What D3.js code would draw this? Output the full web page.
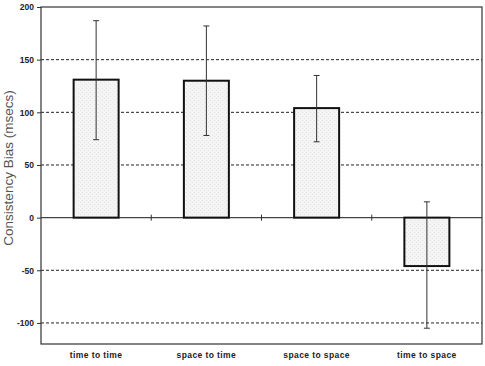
<!DOCTYPE html>
<html>
<head>
<meta charset="utf-8">
<script src="https://cdn.jsdelivr.net/npm/d3@7"></script>
<style>
  body { margin: 0; background: #fff; }
  svg { display: block; }
</style>
</head>
<body>
<svg id="chart" width="485" height="366"></svg>
<script>
// data
const categories = ["time to time", "space to time", "space to space", "time to space"];
const means = [131, 130, 104, -46];
const errHigh = [187, 182, 135, 15];
const errLow = [74, 78, 72, -105];
const yTicks = [-100, -50, 0, 50, 100, 150, 200];

const W = 485, H = 366;
const margin = { top: 7, right: 3, bottom: 22, left: 41 };

const svg = d3.select("#chart");
const g = svg.append("g").attr("transform", `translate(${margin.left},${margin.top})`);
const iw = W - margin.left - margin.right;
const ih = H - margin.top - margin.bottom;

const x = d3.scaleBand().domain(categories).range([0, iw]).paddingInner(0).paddingOuter(0);
const y = d3.scaleLinear().domain([-120, 200]).range([ih, 0]);

// dashed gridlines
g.selectAll(".grid")
  .data(yTicks.filter(d => d !== 0 && d !== 200))
  .enter().append("line")
  .attr("x1", 0).attr("x2", iw)
  .attr("y1", d => y(d)).attr("y2", d => y(d))
  .attr("stroke", "#222").attr("stroke-width", 1)
  .attr("stroke-dasharray", "3,2");

// zero line
g.append("line")
  .attr("x1", 0).attr("x2", iw)
  .attr("y1", y(0)).attr("y2", y(0))
  .attr("stroke", "#444").attr("stroke-width", 1.2);

// category boundary ticks on zero line
g.selectAll(".ctick")
  .data(categories.slice(1))
  .enter().append("line")
  .attr("x1", d => x(d)).attr("x2", d => x(d))
  .attr("y1", y(0) - 3).attr("y2", y(0) + 3)
  .attr("stroke", "#333").attr("stroke-width", 1);

// light stipple pattern for bars
const defs = svg.append("defs");
const pat = defs.append("pattern").attr("id", "stip")
  .attr("width", 4).attr("height", 4).attr("patternUnits", "userSpaceOnUse");
pat.append("rect").attr("width", 4).attr("height", 4).attr("fill", "#f4f4f4");
pat.append("rect").attr("x", 1).attr("y", 1).attr("width", 1).attr("height", 1).attr("fill", "#e2e2e2");
pat.append("rect").attr("x", 3).attr("y", 3).attr("width", 1).attr("height", 1).attr("fill", "#e6e6e6");

const bw = 45;
g.selectAll(".bar")
  .data(categories)
  .enter().append("rect")
  .attr("x", d => x(d) + x.bandwidth() / 2 - bw / 2)
  .attr("y", (d, i) => y(Math.max(0, means[i])))
  .attr("width", bw)
  .attr("height", (d, i) => Math.abs(y(means[i]) - y(0)))
  .attr("fill", "url(#stip)")
  .attr("stroke", "#111").attr("stroke-width", 2);

// error bars
const eb = g.selectAll(".err").data(categories).enter().append("g")
  .attr("transform", d => `translate(${x(d) + x.bandwidth() / 2},0)`)
  .attr("stroke", "#333").attr("stroke-width", 1);
eb.append("line").attr("y1", (d, i) => y(errHigh[i])).attr("y2", (d, i) => y(errLow[i]));
eb.append("line").attr("x1", -3).attr("x2", 3).attr("y1", (d, i) => y(errHigh[i])).attr("y2", (d, i) => y(errHigh[i]));
eb.append("line").attr("x1", -3).attr("x2", 3).attr("y1", (d, i) => y(errLow[i])).attr("y2", (d, i) => y(errLow[i]));

// frame
g.append("rect").attr("width", iw).attr("height", ih)
  .attr("fill", "none").attr("stroke", "#333").attr("stroke-width", 1.2);

// y axis
const yAxis = g.append("g")
  .call(d3.axisLeft(y).tickValues(yTicks).tickSize(4).tickPadding(3).tickFormat(d => String(d)));
yAxis.select(".domain").remove();
yAxis.selectAll("line").attr("stroke", "#333");
yAxis.selectAll("text")
  .attr("font-family", "Liberation Sans, Arial, sans-serif")
  .attr("font-size", 8.5).attr("font-weight", "bold").attr("fill", "#222");

// x labels
g.selectAll(".xl")
  .data(categories)
  .enter().append("text")
  .attr("x", d => x(d) + x.bandwidth() / 2)
  .attr("y", ih + 14)
  .attr("text-anchor", "middle")
  .attr("font-family", "Liberation Sans, Arial, sans-serif")
  .attr("font-size", 8.5).attr("letter-spacing", 0.4)
  .attr("font-weight", "bold").attr("fill", "#222")
  .text(d => d);

// y title
svg.append("text")
  .attr("transform", "translate(13,168) rotate(-90)")
  .attr("text-anchor", "middle")
  .attr("font-family", "Liberation Sans, Arial, sans-serif")
  .attr("font-size", 13.5).attr("fill", "#555")
  .text("Consistency Bias (msecs)");
</script>
</body>
</html>
